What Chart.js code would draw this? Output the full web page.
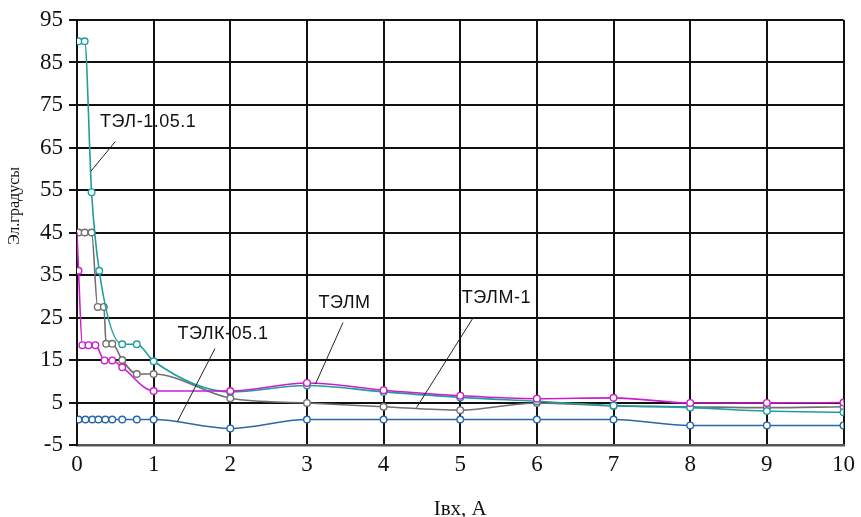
<!DOCTYPE html>
<html>
<head>
<meta charset="utf-8">
<script src="https://cdn.jsdelivr.net/npm/chart.js@4/dist/chart.umd.min.js"></script>
<style>
  html, body { margin: 0; padding: 0; background: #ffffff; }
  #wrap { width: 861px; height: 517px; }
</style>
</head>
<body>
<div id="wrap"><canvas id="c" width="861" height="517"></canvas></div>
<script>
// Angular error (electrical degrees) against input current, four transformer types.
const xTicks = [0, 1, 2, 3, 4, 5, 6, 7, 8, 9, 10];
const yTicks = [-5, 5, 15, 25, 35, 45, 55, 65, 75, 85, 95];

// ТЭЛМ
const telmX = [0, 0.02, 0.07, 0.15, 0.24, 0.36, 0.46, 0.59, 1, 2, 3, 4, 5, 6, 7, 8, 9, 10];
const telmY = [45, 36, 18.5, 18.5, 18.5, 14.9, 14.9, 13.3, 7.7, 7.7, 9.6, 7.9, 6.6, 5.9, 6.1, 4.9, 4.9, 5.0];

// ТЭЛ-1.05.1
const tel1X = [0.02, 0.1, 0.19, 0.29, 0.59, 0.78, 1, 2, 3, 4, 5, 6, 7, 8, 9, 10];
const tel1Y = [90, 90, 54.5, 36, 18.7, 18.7, 14.7, 7.5, 9.0, 7.5, 6.2, 5.3, 4.3, 3.8, 3.0, 2.7];

// ТЭЛМ-1
const telm1X = [0.02, 0.1, 0.19, 0.27, 0.35, 0.38, 0.46, 0.59, 0.78, 1, 2, 3, 4, 5, 6, 7, 8, 9, 10];
const telm1Y = [45, 45, 45, 27.5, 27.5, 18.8, 18.8, 15.0, 11.7, 11.7, 6.0, 4.9, 4.0, 3.2, 4.9, 4.2, 4.0, 3.8, 4.0];

// ТЭЛК-05.1
const telkX = [0.02, 0.11, 0.2, 0.28, 0.37, 0.46, 0.59, 0.78, 1, 2, 3, 4, 5, 6, 7, 8, 9, 10];
const telkY = [1, 1, 1, 1, 1, 1, 1, 1, 1, -1.1, 1, 1, 1, 1, 1, -0.4, -0.4, -0.4];

// Callout labels: text anchor and leader line, in data units
const callouts = [
  { text: 'ТЭЛ-1.05.1', at: [0.30, 70.9], from: [0.50, 66.4], to: [0.18, 59.4] },
  { text: 'ТЭЛК-05.1', at: [1.31, 21.2], from: [1.80, 17.7], to: [1.31, 0.5] },
  { text: 'ТЭЛМ',      at: [3.15, 28.3], from: [3.47, 23.8], to: [3.11, 9.3] },
  { text: 'ТЭЛМ-1',    at: [5.02, 29.5], from: [5.17, 25.0], to: [4.43, 3.8] }
];

const yTitle = 'Эл.градусы';
const xTitle = 'Iвх, A';

const pairs = (xs, ys) => xs.map((x, i) => ({ x: x, y: ys[i] }));

function series(label, xs, ys, color, radii) {
  return {
    label: label,
    data: pairs(xs, ys),
    borderColor: color,
    borderWidth: 1.6,
    pointRadius: radii || 3.3,
    pointBorderWidth: 1.4,
    pointBorderColor: color,
    pointBackgroundColor: '#ffffff',
    cubicInterpolationMode: 'monotone',
    fill: false
  };
}

const serif = '"Liberation Serif", "Times New Roman", serif';

// Leader-line callouts and the rotated value-axis caption
const calloutPlugin = {
  id: 'callouts',
  afterDatasetsDraw(chart) {
    const { ctx, scales: { x, y } } = chart;
    ctx.save();
    ctx.font = '18px "Liberation Sans", Arial, sans-serif';
    if ('letterSpacing' in ctx) ctx.letterSpacing = '0.5px';
    ctx.fillStyle = '#111111';
    ctx.textBaseline = 'middle';
    ctx.textAlign = 'left';
    ctx.strokeStyle = '#222222';
    ctx.lineWidth = 1;
    callouts.forEach(c => {
      ctx.fillText(c.text, x.getPixelForValue(c.at[0]), y.getPixelForValue(c.at[1]));
      ctx.beginPath();
      ctx.moveTo(x.getPixelForValue(c.from[0]), y.getPixelForValue(c.from[1]));
      ctx.lineTo(x.getPixelForValue(c.to[0]), y.getPixelForValue(c.to[1]));
      ctx.stroke();
    });
    ctx.restore();
  },
  afterDraw(chart) {
    const ctx = chart.ctx;
    ctx.save();
    ctx.font = '16px ' + serif;
    ctx.fillStyle = '#111111';
    ctx.textAlign = 'center';
    ctx.textBaseline = 'middle';
    ctx.translate(15, 206);
    ctx.rotate(-Math.PI / 2);
    ctx.fillText(yTitle, 0, 0);
    ctx.restore();
  }
};

new Chart(document.getElementById('c'), {
  type: 'line',
  data: {
    datasets: [
      series('ТЭЛМ', telmX, telmY, '#cc1ccc', telmX.map((v, i) => (i === 0 ? 0 : 3.3))),
      series('ТЭЛ-1.05.1', tel1X, tel1Y, '#1f9e9e'),
      series('ТЭЛМ-1', telm1X, telm1Y, '#707070'),
      series('ТЭЛК-05.1', telkX, telkY, '#2868a8')
    ]
  },
  options: {
    responsive: false,
    animation: false,
    layout: { padding: { top: 20, right: 17, bottom: 0, left: 0 } },
    plugins: { legend: { display: false }, tooltip: { enabled: false } },
    scales: {
      x: {
        type: 'linear',
        min: 0,
        max: 10,
        afterBuildTicks: s => { s.ticks = xTicks.map(v => ({ value: v })); },
        afterFit: s => { s.height = 72; },
        grid: { color: '#111111', lineWidth: 2, drawTicks: false },
        border: { color: '#555555', width: 2.5 },
        ticks: { font: { family: serif, size: 23 }, color: '#111111', padding: 6, maxRotation: 0 },
        title: {
          display: true,
          text: xTitle,
          font: { family: serif, size: 21, lineHeight: 0.7 },
          color: '#111111',
          padding: 0
        }
      },
      y: {
        type: 'linear',
        min: -5,
        max: 95,
        afterBuildTicks: s => { s.ticks = yTicks.map(v => ({ value: v })); },
        afterFit: s => { s.width = 77; },
        grid: { color: '#111111', lineWidth: 2, tickLength: 8 },
        border: { color: '#111111', width: 2 },
        ticks: { font: { family: serif, size: 23 }, color: '#111111', padding: 6 },
        title: { display: false }
      }
    }
  },
  plugins: [calloutPlugin]
});
</script>
</body>
</html>
